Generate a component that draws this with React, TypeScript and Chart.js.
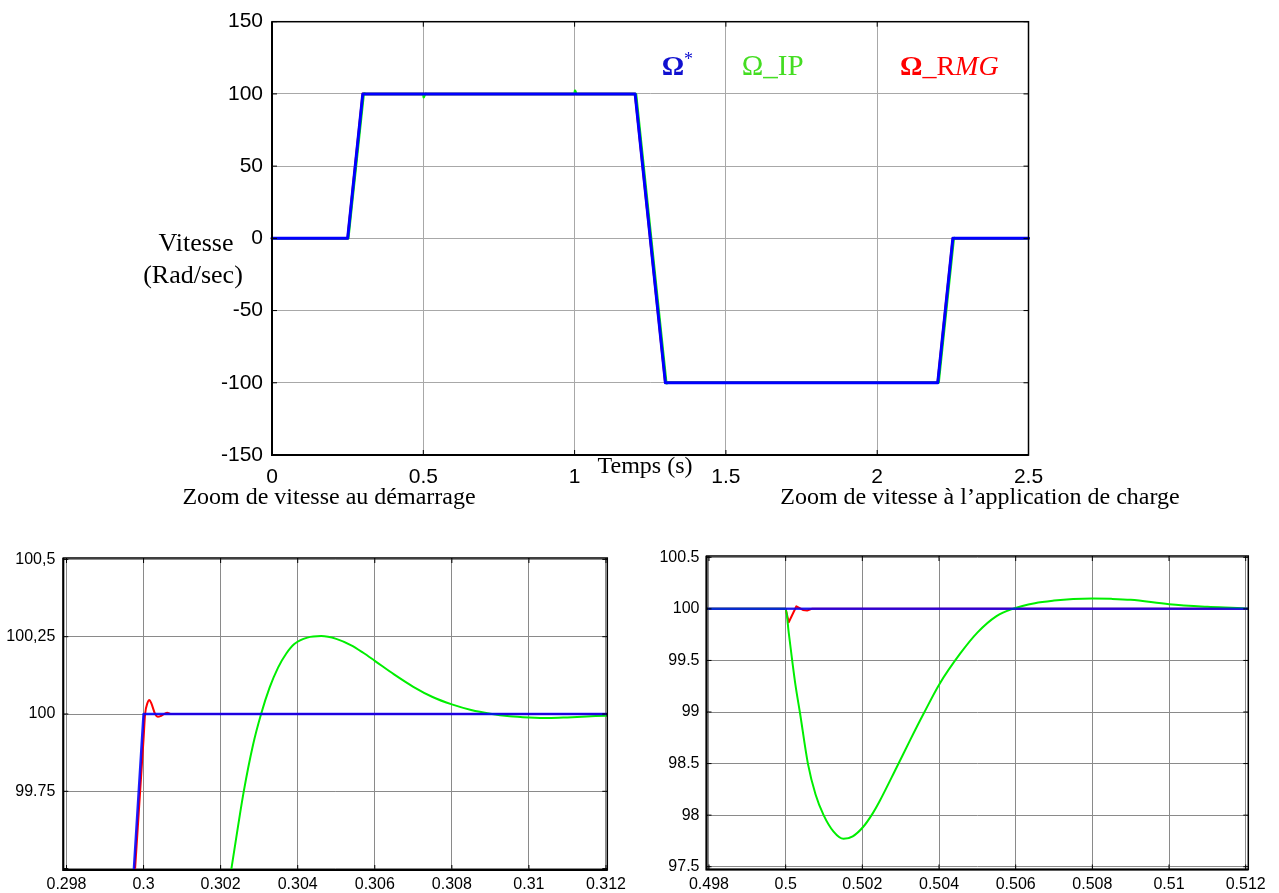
import React, { useEffect, useRef } from "react";
import { Chart, registerables } from "chart.js";
Chart.register(...registerables);

// ---------- Main chart (full run) ----------
const mainRefTime = [0, 0.25, 0.3, 1.2, 1.3, 2.2, 2.25, 2.5];
const mainRefSpeed = [0, 0, 100, 100, -100, -100, 0, 0];
const mainIpTime = [0, 0.252, 0.303, 0.3046, 0.31, 0.5, 0.5015, 0.506, 0.508, 0.512, 1.0, 1.0015, 1.006, 1.2, 1.203, 1.303, 1.3046, 1.31, 2.2, 2.203, 2.253, 2.2546, 2.26, 2.5];
const mainIpSpeed = [0, 0, 100, 100.25, 100, 100, 97.77, 100, 100.1, 100, 100, 102.2, 100, 100, 99.8, -100, -100.25, -100, -100, -99.8, 0, 0.25, 0, 0];
const mainRmgTime = [0, 0.25, 0.3, 0.30015, 0.3006, 1.2, 1.3, 2.2, 2.25, 2.5];
const mainRmgSpeed = [0, 0, 100, 100.05, 100, 100, -100, -100, 0, 0];
const mainXTicks = [0, 0.5, 1, 1.5, 2, 2.5];
const mainXLabels = ["0", "0.5", "1", "1.5", "2", "2.5"];
const mainYTicks = [-150, -100, -50, 0, 50, 100, 150];
const mainYLabels = ["-150", "-100", "-50", "0", "50", "100", "150"];

// ---------- Zoom at start-up ----------
const startRefTime = [0.2994, 0.3, 0.3121];
const startRefSpeed = [98.8, 100, 100];
const startRmgTime = [0.2996, 0.29978, 0.3, 0.30004, 0.3001, 0.30015, 0.3002, 0.3003, 0.30037, 0.30047, 0.30061, 0.30072, 0.3121];
const startRmgSpeed = [99.15, 99.5, 99.92, 100.0, 100.035, 100.045, 100.035, 100.0, 99.991, 99.995, 100.004, 100.0, 100.0];
const startIpTime = [0.3021, 0.30228, 0.30245, 0.3026, 0.30284, 0.30305, 0.30327, 0.30349, 0.3037, 0.30392, 0.30425, 0.30461, 0.305, 0.30539, 0.3057, 0.306, 0.3065, 0.307, 0.3075, 0.308, 0.3085, 0.309, 0.3095, 0.31, 0.3105, 0.311, 0.3115, 0.312, 0.3121];
const startIpSpeed = [99.35, 99.5, 99.636, 99.75, 99.9, 100.0, 100.085, 100.15, 100.195, 100.227, 100.247, 100.252, 100.243, 100.222, 100.198, 100.172, 100.128, 100.088, 100.055, 100.031, 100.013, 100.001, 99.993, 99.989, 99.987, 99.989, 99.992, 99.994, 99.994];
const startXTicks = [0.298, 0.3, 0.302, 0.304, 0.306, 0.308, 0.31, 0.312];
const startXLabels = ["0.298", "0.3", "0.302", "0.304", "0.306", "0.308", "0.31", "0.312"];
const startYTicks = [99.5, 99.75, 100, 100.25, 100.5];
const startYLabels = ["", "99.75", "100", "100,25", "100,5"];

// ---------- Zoom at load application ----------
const loadRefTime = [0.4979, 0.5121];
const loadRefSpeed = [100, 100];
const loadRmgTime = [0.4979, 0.5, 0.50008, 0.50028, 0.50045, 0.50056, 0.50068, 0.5121];
const loadRmgSpeed = [100, 100, 99.87, 100.025, 99.99, 99.984, 100, 100];
const loadIpTime = [0.4979, 0.5, 0.50008, 0.50017, 0.50026, 0.50037, 0.50058, 0.50078, 0.50099, 0.50125, 0.50151, 0.50175, 0.50202, 0.50225, 0.50245, 0.50289, 0.50325, 0.5036, 0.50401, 0.50456, 0.505, 0.5055, 0.50592, 0.5065, 0.507, 0.5075, 0.508, 0.5085, 0.509, 0.51, 0.511, 0.512, 0.5121];
const loadIpSpeed = [100, 100, 99.77, 99.5, 99.25, 99.0, 98.5, 98.2, 98.0, 97.84, 97.77, 97.795, 97.885, 98.005, 98.135, 98.46, 98.73, 98.985, 99.27, 99.57, 99.77, 99.93, 100.0, 100.055, 100.08, 100.095, 100.1, 100.097, 100.088, 100.045, 100.02, 100.003, 100.0];
const loadXTicks = [0.498, 0.5, 0.502, 0.504, 0.506, 0.508, 0.51, 0.512];
const loadXLabels = ["0.498", "0.5", "0.502", "0.504", "0.506", "0.508", "0.51", "0.512"];
const loadYTicks = [97.5, 98, 98.5, 99, 99.5, 100, 100.5];
const loadYLabels = ["97.5", "98", "98.5", "99", "99.5", "100", "100.5"];

const SERIF = '"Liberation Serif", "Times New Roman", serif';
const SANS = '"Liberation Sans", Arial, sans-serif';

function pts(t: number[], v: number[]) {
  return t.map((x, i) => ({ x, y: v[i] }));
}

type Run = { text: string; font: string; color: string; dy?: number };
type TextItem = { x: number; y: number; align?: "left" | "center"; runs: Run[] };

function makeTextPlugin(items: TextItem[]) {
  return {
    id: "texts",
    afterDraw(chart: any) {
      const ctx = chart.ctx as CanvasRenderingContext2D;
      ctx.save();
      ctx.textBaseline = "alphabetic";
      ctx.textAlign = "left";
      for (const it of items) {
        let total = 0;
        for (const r of it.runs) {
          ctx.font = r.font;
          total += ctx.measureText(r.text).width;
        }
        let x = it.align === "center" ? it.x - total / 2 : it.x;
        for (const r of it.runs) {
          ctx.font = r.font;
          ctx.fillStyle = r.color;
          ctx.fillText(r.text, x, it.y + (r.dy || 0));
          x += ctx.measureText(r.text).width;
        }
      }
      ctx.restore();
    },
  };
}

const framePlugin = {
  id: "frame",
  afterDatasetsDraw(chart: any) {
    const ctx = chart.ctx as CanvasRenderingContext2D;
    const a = chart.chartArea;
    const xs = chart.scales.x;
    const ys = chart.scales.y;
    ctx.save();
    ctx.strokeStyle = "#000";
    ctx.lineWidth = 1;
    ctx.beginPath();
    for (const t of xs.ticks) {
      const px = xs.getPixelForValue(t.value);
      ctx.moveTo(px, a.bottom);
      ctx.lineTo(px, a.bottom - 5);
      ctx.moveTo(px, a.top);
      ctx.lineTo(px, a.top + 5);
    }
    for (const t of ys.ticks) {
      const py = ys.getPixelForValue(t.value);
      ctx.moveTo(a.left, py);
      ctx.lineTo(a.left + 5, py);
      ctx.moveTo(a.right, py);
      ctx.lineTo(a.right - 5, py);
    }
    ctx.stroke();
    ctx.lineWidth = 1.5;
    ctx.strokeRect(a.left, a.top, a.right - a.left, a.bottom - a.top);
    ctx.lineWidth = 2;
    ctx.beginPath();
    ctx.moveTo(a.left, a.top);
    ctx.lineTo(a.left, a.bottom);
    ctx.lineTo(a.right, a.bottom);
    ctx.stroke();
    ctx.restore();
  },
};

type Spec = {
  left: number;
  top: number;
  width: number;
  height: number;
  area: { left: number; right: number; top: number; bottom: number };
  xMin: number;
  xMax: number;
  yMin: number;
  yMax: number;
  xTicks: number[];
  xLabels: string[];
  yTicks: number[];
  yLabels: string[];
  tickSize: number;
  xPad: number;
  yPad: number;
  gridColor: string;
  datasets: any[];
  texts: TextItem[];
};

function buildConfig(s: Spec): any {
  return {
    type: "line",
    data: { datasets: s.datasets },
    options: {
      responsive: false,
      maintainAspectRatio: false,
      animation: false,
      events: [],
      layout: {
        padding: { left: 0, top: s.area.top, right: s.width - s.area.right, bottom: 0 },
      },
      plugins: {
        legend: { display: false },
        tooltip: { enabled: false },
        title: { display: false },
      },
      elements: { point: { radius: 0 }, line: { borderJoinStyle: "round", borderCapStyle: "round" } },
      scales: {
        x: {
          type: "linear",
          min: s.xMin,
          max: s.xMax,
          afterBuildTicks: (sc: any) => {
            sc.ticks = s.xTicks.map((v) => ({ value: v }));
          },
          afterFit: (sc: any) => {
            sc.height = s.height - s.area.bottom;
          },
          grid: { color: s.gridColor, lineWidth: 1, drawTicks: false },
          border: { display: false },
          ticks: {
            autoSkip: false,
            maxRotation: 0,
            minRotation: 0,
            padding: s.xPad,
            color: "#000",
            font: { family: SANS, size: s.tickSize },
            callback: (_v: any, i: number) => s.xLabels[i],
          },
        },
        y: {
          type: "linear",
          min: s.yMin,
          max: s.yMax,
          afterBuildTicks: (sc: any) => {
            sc.ticks = s.yTicks.map((v) => ({ value: v }));
          },
          afterFit: (sc: any) => {
            sc.width = s.area.left;
          },
          grid: { color: s.gridColor, lineWidth: 1, drawTicks: false },
          border: { display: false },
          ticks: {
            autoSkip: false,
            padding: s.yPad,
            color: "#000",
            font: { family: SANS, size: s.tickSize },
            callback: (_v: any, i: number) => s.yLabels[i],
          },
        },
      },
    },
    plugins: [framePlugin, makeTextPlugin(s.texts)],
  };
}

function ChartBox({ spec }: { spec: Spec }) {
  const ref = useRef<HTMLCanvasElement>(null);
  useEffect(() => {
    const chart = new Chart(ref.current as HTMLCanvasElement, buildConfig(spec));
    return () => chart.destroy();
  }, []);
  return (
    <div style={{ position: "absolute", left: spec.left, top: spec.top, width: spec.width, height: spec.height }}>
      <canvas ref={ref} width={spec.width} height={spec.height} style={{ width: spec.width, height: spec.height, display: "block" }} />
    </div>
  );
}

const BLUE = "#0000ff";
const GREEN = "#00ee00";
const RED = "#ff0000";

const mainSpec: Spec = {
  left: 0,
  top: 0,
  width: 1279,
  height: 512,
  area: { left: 272, right: 1028.5, top: 21.7, bottom: 455 },
  xMin: 0,
  xMax: 2.5,
  yMin: -150,
  yMax: 150,
  xTicks: mainXTicks,
  xLabels: mainXLabels,
  yTicks: mainYTicks,
  yLabels: mainYLabels,
  tickSize: 21,
  xPad: 10,
  yPad: 9,
  gridColor: "#a8a8a8",
  datasets: [
    { label: "Ω*", data: pts(mainRefTime, mainRefSpeed), borderColor: BLUE, borderWidth: 3, tension: 0, clip: 2 },
    { label: "Ω_IP", data: pts(mainIpTime, mainIpSpeed), borderColor: GREEN, borderWidth: 2.5, tension: 0, clip: 2 },
    { label: "Ω_RMG", data: pts(mainRmgTime, mainRmgSpeed), borderColor: RED, borderWidth: 2.5, tension: 0, clip: 2 },
  ],
  texts: [
    {
      x: 661.7,
      y: 75,
      runs: [
        { text: "Ω", font: `bold 28px ${SERIF}`, color: "#1010d0" },
        { text: "*", font: `18px ${SERIF}`, color: "#1010d0", dy: -10 },
      ],
    },
    { x: 741.7, y: 75, runs: [{ text: "Ω_IP", font: `29px ${SERIF}`, color: "#44dd22" }] },
    {
      x: 900,
      y: 75,
      runs: [
        { text: "Ω", font: `bold 28px ${SERIF}`, color: "#ff0000" },
        { text: "_R", font: `28px ${SERIF}`, color: "#ff0000" },
        { text: "MG", font: `italic 28px ${SERIF}`, color: "#ff0000" },
      ],
    },
    { x: 196, y: 251, align: "center", runs: [{ text: "Vitesse", font: `26px ${SERIF}`, color: "#000" }] },
    { x: 193, y: 283, align: "center", runs: [{ text: "(Rad/sec)", font: `26px ${SERIF}`, color: "#000" }] },
    { x: 645, y: 473, align: "center", runs: [{ text: "Temps (s)", font: `24px ${SERIF}`, color: "#000" }] },
    { x: 329, y: 504, align: "center", runs: [{ text: "Zoom de vitesse au démarrage", font: `24px ${SERIF}`, color: "#000" }] },
    { x: 980, y: 504, align: "center", runs: [{ text: "Zoom de vitesse à l’application de charge", font: `24px ${SERIF}`, color: "#000" }] },
  ],
};

const startSpec: Spec = {
  left: 0,
  top: 512,
  width: 640,
  height: 381,
  area: { left: 63.3, right: 607.3, top: 46, bottom: 358 },
  xMin: 0.297917,
  xMax: 0.312034,
  yMin: 99.4955,
  yMax: 100.5045,
  xTicks: startXTicks,
  xLabels: startXLabels,
  yTicks: startYTicks,
  yLabels: startYLabels,
  tickSize: 16,
  xPad: 5,
  yPad: 8,
  gridColor: "#8a8a8a",
  datasets: [
    { label: "Ω*", data: pts(startRefTime, startRefSpeed), borderColor: "rgba(0,0,255,0.88)", borderWidth: 2.5, tension: 0, clip: 0 },
    { label: "Ω_IP", data: pts(startIpTime, startIpSpeed), borderColor: GREEN, borderWidth: 2, cubicInterpolationMode: "monotone", clip: 0 },
    { label: "Ω_RMG", data: pts(startRmgTime, startRmgSpeed), borderColor: RED, borderWidth: 2, cubicInterpolationMode: "monotone", clip: 0 },
  ],
  texts: [],
};

const loadSpec: Spec = {
  left: 640,
  top: 512,
  width: 639,
  height: 381,
  area: { left: 66.5, right: 608.3, top: 44, bottom: 357.5 },
  xMin: 0.497935,
  xMax: 0.512068,
  yMin: 97.473,
  yMax: 100.5126,
  xTicks: loadXTicks,
  xLabels: loadXLabels,
  yTicks: loadYTicks,
  yLabels: loadYLabels,
  tickSize: 16,
  xPad: 5,
  yPad: 7,
  gridColor: "#8a8a8a",
  datasets: [
    { label: "Ω*", data: pts(loadRefTime, loadRefSpeed), borderColor: "rgba(0,0,255,0.8)", borderWidth: 2.5, tension: 0, clip: 0 },
    { label: "Ω_IP", data: pts(loadIpTime, loadIpSpeed), borderColor: GREEN, borderWidth: 2, cubicInterpolationMode: "monotone", clip: 0 },
    { label: "Ω_RMG", data: pts(loadRmgTime, loadRmgSpeed), borderColor: RED, borderWidth: 2, tension: 0, clip: 0 },
  ],
  texts: [],
};

export default function App() {
  return (
    <div style={{ position: "absolute", left: 0, top: 0, width: 1279, height: 893, background: "#fff", overflow: "hidden" }}>
      <ChartBox spec={mainSpec} />
      <ChartBox spec={startSpec} />
      <ChartBox spec={loadSpec} />
    </div>
  );
}
